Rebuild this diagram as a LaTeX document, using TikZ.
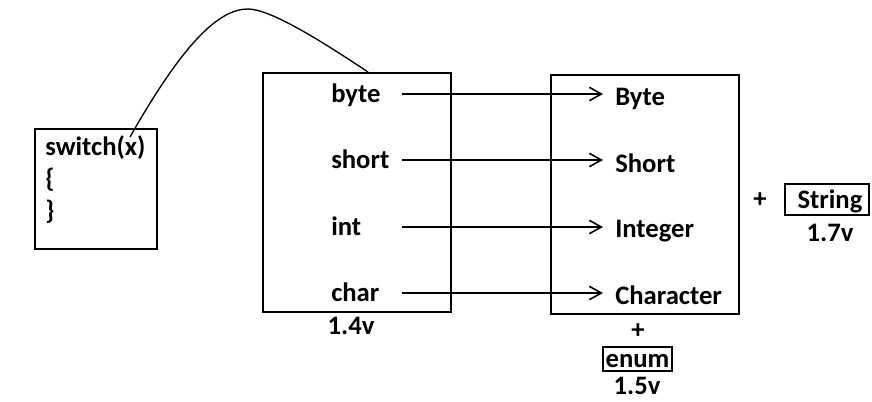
\documentclass[tikz,border=0pt]{standalone}
\usepackage{fontspec}
\setmainfont{Carlito}
\usetikzlibrary{arrows.meta}

\begin{document}
\begin{tikzpicture}[x=0.75pt,y=-0.75pt,
    box/.style={draw, line width=1.5pt, inner sep=0pt},
    tagbox/.style={draw, line width=1.2pt, inner sep=0pt},
    lbl/.style={font=\fontsize{20}{24}\selectfont\bfseries, inner sep=0pt, text height=14pt, text depth=1pt},
    inlbl/.style={lbl, text width=52.5pt, align=left, anchor=west},
    outlbl/.style={lbl, inner xsep=9pt, anchor=west},
    conv/.style={line width=1.2pt, -{Straight Barb[length=9pt,width=10pt,line width=1.2pt]}}]
             \useasboundingbox (0,0) rectangle (872,401);

             % switch block
             \node[box, minimum width=91.5pt, minimum height=90pt] (sw) at (96,189) {};
             \node[lbl, anchor=west] (sw1) at (45,147) {switch(x)};
             \node[lbl, anchor=west] (sw2) at (45,179) {\{};
             \node[lbl, anchor=west] (sw3) at (45,211) {\}};

             % primitive types
             \node[box, minimum width=141pt, minimum height=179.25pt] (prim) at (357,192.5) {};
             \node[inlbl] (byte) at (331,94) {byte};
             \node[inlbl] (short) at (331,160) {short};
             \node[inlbl] (int) at (331,227) {int};
             \node[inlbl] (char) at (331,293) {char};
             \node[lbl] (v14) at (351,326) {1.4v};

             % wrapper types
             \node[box, minimum width=141pt, minimum height=179.25pt] (wrap) at (645,194.5) {};
             \node[outlbl] (Byte) at (603,97) {Byte};
             \node[outlbl] (Short) at (603,164) {Short};
             \node[outlbl] (Integer) at (603,229) {Integer};
             \node[outlbl] (Character) at (603,296) {Character};

             \draw[conv] (byte.east) -- (byte.east -| Byte.west);
             \draw[conv] (short.east) -- (short.east -| Short.west);
             \draw[conv] (int.east) -- (int.east -| Integer.west);
             \draw[conv] (char.east) -- (char.east -| Character.west);

             % enum and String
             \node[lbl] (plus1) at (638,330) {+};
             \node[tagbox, minimum width=51.75pt, minimum height=18pt] (enum) at (637.5,359) {};
             \node[lbl] (enumtxt) at (637.5,359) {enum};
             \node[lbl, text depth=0pt, anchor=base] (v15) at (637,394) {1.5v};

             \node[lbl] (plus2) at (760,199) {+};
             \node[tagbox, minimum width=63pt, minimum height=23.25pt] (str) at (827,199.5) {};
             \node[lbl] (strtxt) at (830,199.5) {String};
             \node[lbl] (v17) at (830,233) {1.7v};

             % link from switch to the types
             \coordinate (swx) at (130,137);
             \coordinate (primtop) at (368,72);
             \draw[line width=1pt] (swx) .. controls (185,40) and (220,9) .. (248,9)
                   .. controls (270,9) and (320,40) .. (primtop);
             \end{tikzpicture}
\end{document}
